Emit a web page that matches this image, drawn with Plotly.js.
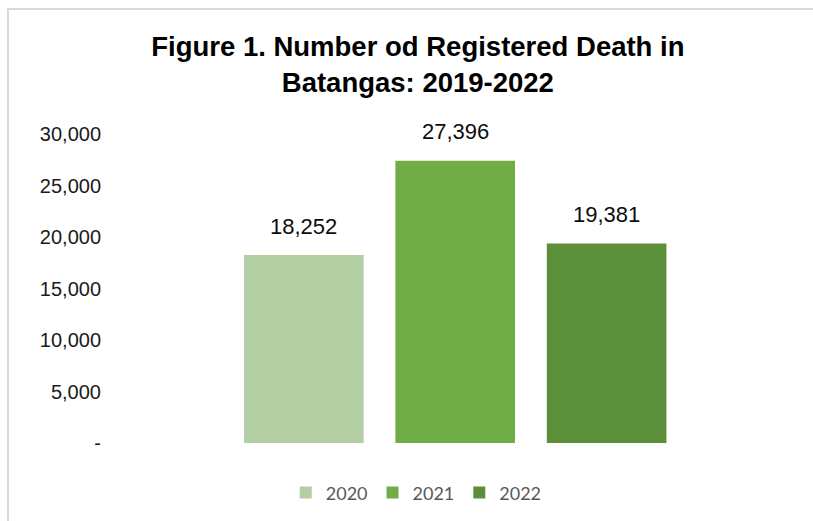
<!DOCTYPE html>
<html>
<head>
<meta charset="utf-8">
<script src="https://cdn.plot.ly/plotly-3.0.1.min.js"></script>
<style>
  html, body { margin: 0; padding: 0; background: #ffffff; }
  #wrap { position: relative; width: 813px; height: 521px; overflow: hidden; }
  #chart { position: absolute; left: 0; top: 0; width: 813px; height: 521px; }
  #frame { position: absolute; left: 7px; top: 8px; width: 900px; height: 600px;
           border-left: 2px solid #d9d9d9; border-top: 2px solid #d9d9d9; pointer-events: none; }
</style>
</head>
<body>
<div id="wrap">
  <div id="chart"></div>
  <div id="frame"></div>
</div>
<script>
const years = ["2020", "2021", "2022"];
const deaths = [18252, 27396, 19381];
const barColors = ["#b4cea4", "#71ad47", "#5c8f39"];
const tickValues = [0, 5000, 10000, 15000, 20000, 25000, 30000];
const tickLabels = ["-", "5,000", "10,000", "15,000", "20,000", "25,000", "30,000"];
const titleText = "Figure 1. Number od Registered Death in<br>Batangas: 2019-2022";

const traces = years.map((yr, i) => ({
  type: "bar",
  name: yr,
  x: [yr],
  y: [deaths[i]],
  width: 0.79,
  marker: { color: barColors[i], line: { width: 0 } },
  hoverinfo: "x+y"
}));

// category axis: annotation positions given as the category's index in `years`
const annotations = years.map((yr, i) => ({
  x: years.indexOf(yr),
  y: deaths[i],
  xref: "x",
  yref: "y",
  text: deaths[i].toLocaleString("en-US"),
  showarrow: false,
  yanchor: "middle",
  yshift: 29,
  font: { family: "Liberation Sans, Arial, sans-serif", size: 22, color: "#0d0d0d" }
}));

const layout = {
  width: 813,
  height: 521,
  paper_bgcolor: "rgba(0,0,0,0)",
  plot_bgcolor: "rgba(0,0,0,0)",
  margin: { l: 102, r: 55, t: 134, b: 78 },
  barmode: "overlay",
  showlegend: true,
  title: {
    text: titleText,
    font: { family: "Liberation Sans, Arial, sans-serif", size: 27.5, color: "#000000", weight: "bold" },
    xref: "container",
    yref: "container",
    x: 0.514,
    xanchor: "center",
    y: 0.892,
    yanchor: "middle"
  },
  xaxis: {
    type: "category",
    categoryorder: "array",
    categoryarray: years,
    range: [-1.333, 3.0],
    showticklabels: false,
    showgrid: false,
    zeroline: false,
    showline: false,
    ticks: ""
  },
  yaxis: {
    range: [0, 30000],
    tickvals: tickValues,
    ticktext: tickLabels,
    showgrid: false,
    zeroline: false,
    showline: false,
    ticks: "",
    tickfont: { family: "Liberation Sans, Arial, sans-serif", size: 20, color: "#1a1a1a" }
  },
  legend: {
    orientation: "h",
    xref: "container",
    yref: "container",
    x: 0.512,
    xanchor: "center",
    y: 0.054,
    yanchor: "middle",
    font: { family: "Lato, sans-serif", size: 18, color: "#595959" },
    itemclick: false,
    itemdoubleclick: false
  },
  annotations: annotations
};

Plotly.newPlot("chart", traces, layout, { displayModeBar: false, staticPlot: true });
</script>
</body>
</html>
